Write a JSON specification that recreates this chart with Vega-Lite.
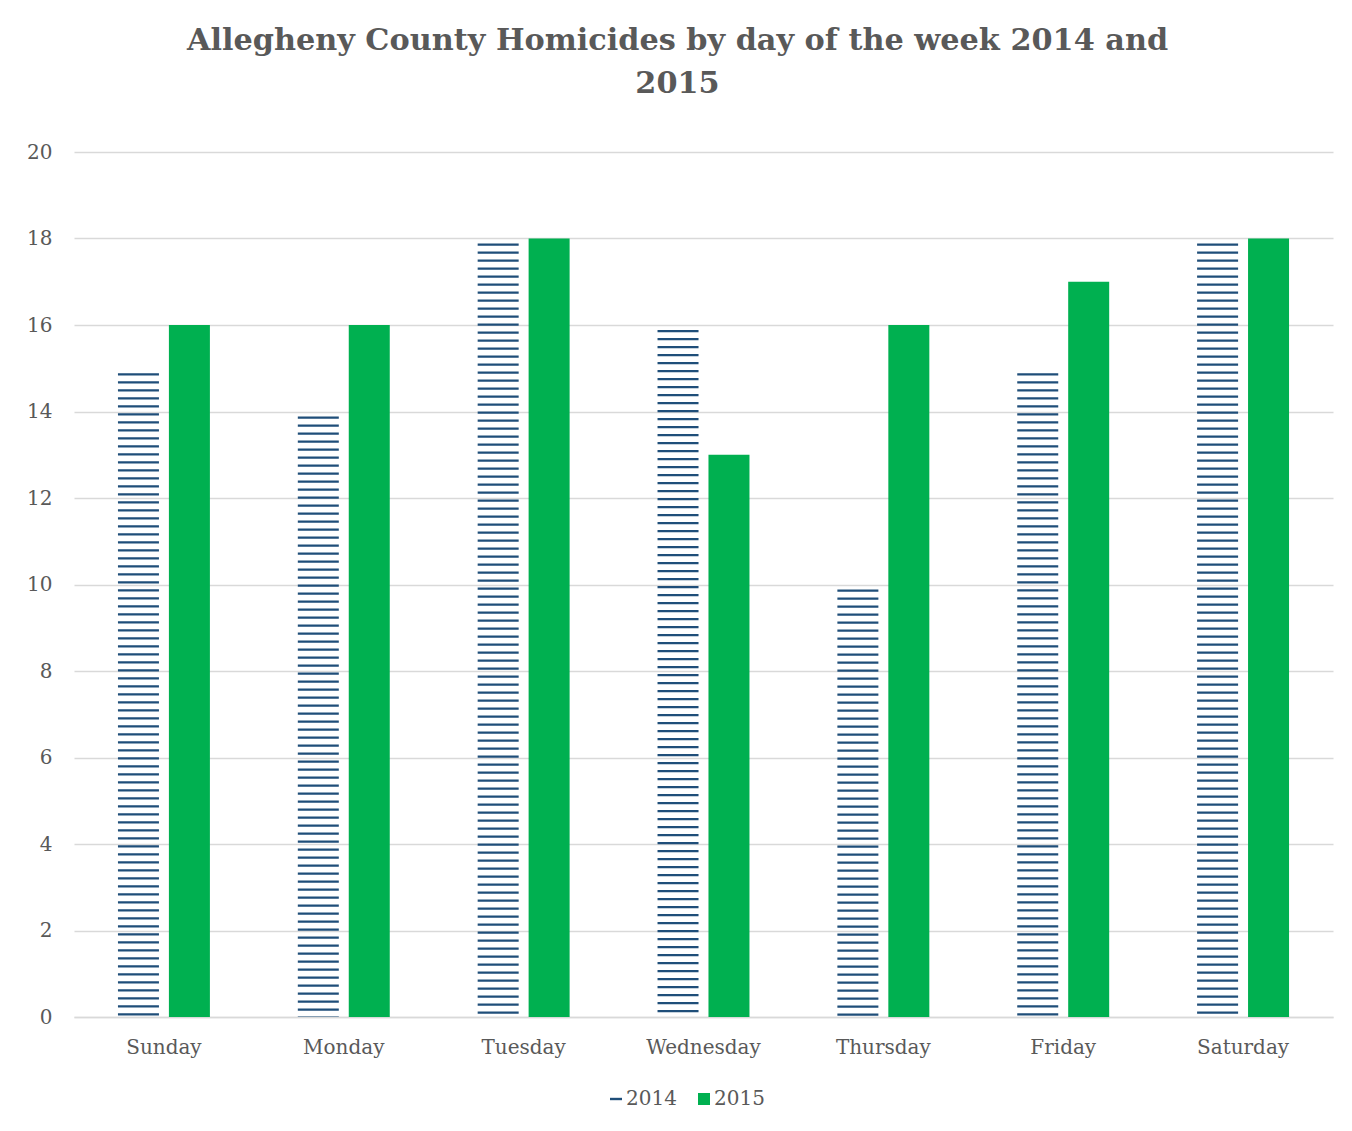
{
  "$schema": "https://vega.github.io/schema/vega-lite/v6.json",
  "width": 1259,
  "height": 865,
  "autosize": {"type": "none"},
  "padding": {"left": 74, "top": 152, "right": 19, "bottom": 114},
  "background": "white",
  "config": {
    "view": {"stroke": null},
    "font": "DejaVu Serif"
  },
  "title": {
    "text": ["Allegheny County Homicides by day of the week 2014 and", "2015"],
    "font": "DejaVu Serif",
    "fontSize": 30.3,
    "fontWeight": "bold",
    "color": "#595959",
    "anchor": "middle",
    "dx": -26,
    "offset": 43,
    "lineHeight": 43
  },
  "data": {
    "values": [
      {"day": "Sunday", "year": "2014", "count": 15},
      {"day": "Sunday", "year": "2015", "count": 16},
      {"day": "Monday", "year": "2014", "count": 14},
      {"day": "Monday", "year": "2015", "count": 16},
      {"day": "Tuesday", "year": "2014", "count": 18},
      {"day": "Tuesday", "year": "2015", "count": 18},
      {"day": "Wednesday", "year": "2014", "count": 16},
      {"day": "Wednesday", "year": "2015", "count": 13},
      {"day": "Thursday", "year": "2014", "count": 10},
      {"day": "Thursday", "year": "2015", "count": 16},
      {"day": "Friday", "year": "2014", "count": 15},
      {"day": "Friday", "year": "2015", "count": 17},
      {"day": "Saturday", "year": "2014", "count": 18},
      {"day": "Saturday", "year": "2015", "count": 18}
    ]
  },
  "encoding": {
    "x": {
      "field": "day",
      "type": "nominal",
      "sort": ["Sunday", "Monday", "Tuesday", "Wednesday", "Thursday", "Friday", "Saturday"],
      "scale": {"paddingInner": 0, "paddingOuter": 0},
      "axis": {
        "title": null,
        "labelAngle": 0,
        "labelFont": "DejaVu Serif",
        "labelFontSize": 20,
        "labelColor": "#595959",
        "labelPadding": 20,
        "ticks": false,
        "domain": true,
        "domainColor": "#D9D9D9",
        "domainWidth": 1.5
      }
    },
    "xOffset": {
      "field": "year",
      "type": "nominal",
      "scale": {"domain": ["2014", "2015"], "paddingInner": 0.216, "paddingOuter": 0.873}
    },
    "color": {
      "field": "year",
      "type": "nominal",
      "scale": {"domain": ["2014", "2015"], "range": ["#1F4E79", "#00B050"]},
      "legend": {
        "title": null,
        "orient": "none",
        "direction": "horizontal",
        "legendX": 532,
        "legendY": 937,
        "padding": 0,
        "labelFont": "DejaVu Serif",
        "labelFontSize": 20,
        "labelColor": "#595959",
        "labelOffset": 0,
        "columnPadding": 17,
        "symbolSize": 144,
        "symbolStrokeWidth": 0,
        "encode": {
          "symbols": {
            "update": {
              "shape": {"signal": "datum.value === '2014' ? 'M-1,-0.2H1V0.2H-1Z' : 'square'"}
            }
          }
        }
      }
    },
    "y": {
      "field": "count",
      "type": "quantitative",
      "scale": {"domain": [0, 20]},
      "axis": {
        "title": null,
        "values": [0, 2, 4, 6, 8, 10, 12, 14, 16, 18, 20],
        "labelFont": "DejaVu Serif",
        "labelFontSize": 20,
        "labelColor": "#595959",
        "labelPadding": 22,
        "ticks": false,
        "domain": false,
        "grid": true,
        "gridColor": "#D9D9D9",
        "gridWidth": 1.3
      }
    }
  },
  "layer": [
    {
      "transform": [{"filter": "datum.year === '2015'"}],
      "mark": {"type": "bar", "width": 41}
    },
    {
      "transform": [{"filter": "datum.year === '2014'"}],
      "mark": {"type": "rule", "strokeWidth": 41, "strokeDash": [2.3, 5.7], "strokeDashOffset": 3, "strokeCap": "butt"},
      "encoding": {
        "y2": {"datum": 0}
      }
    }
  ]
}
